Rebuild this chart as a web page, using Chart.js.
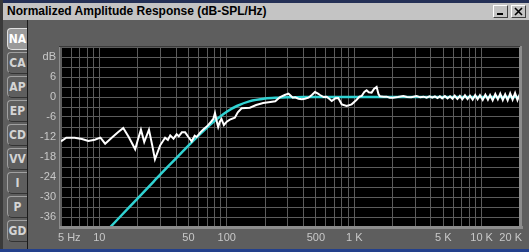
<!DOCTYPE html>
<html>
<head>
<meta charset="utf-8">
<script src="https://cdn.jsdelivr.net/npm/chart.js@4/dist/chart.umd.min.js"></script>
<style>
  html, body { margin: 0; padding: 0; }
  body { width: 529px; height: 252px; overflow: hidden; position: relative; background: #5e5e5e; font-family: "Liberation Sans", Arial, sans-serif; }
  #topline { position: absolute; left: 0; top: 0; width: 529px; height: 3px; background: #243056; }
  #titlebar { position: absolute; left: 3px; top: 3px; width: 526px; height: 17px; background: #c4c4c4; }
  #titlebar span { position: absolute; left: 4px; top: 1px; font: bold 12px "Liberation Sans", Arial, sans-serif; color: #000; line-height: 15px; }
  .wbtn { position: absolute; top: 2px; width: 13px; height: 11px; background: #c4c4c4; border-top: 1px solid #fff; border-left: 1px solid #fff; border-right: 1px solid #404040; border-bottom: 1px solid #404040; }
  .wbtn svg { position: absolute; left: 0; top: 0; }
  #leftedge { position: absolute; left: 0; top: 0; width: 3px; height: 252px; background: #3a3a3a; }
  #tabline { position: absolute; left: 27px; top: 20px; width: 1px; height: 229px; background: #1a1a1a; }
  #bottom { position: absolute; left: 0; top: 249px; width: 529px; height: 3px; background: #23408c; }
  .tab { position: absolute; left: 7px; width: 19px; height: 20px; border-left: 1px solid #a0a0a0; border-top: 1px solid #a0a0a0; border-bottom: 1px solid #333; border-radius: 4px 0 0 5px; font: bold 12px "DejaVu Sans Condensed", "Liberation Sans Narrow", sans-serif; color: #d4d4d4; text-align: center; line-height: 20px; }
  .tab.sel { background: #9a9a9a; color: #fff; border-color: #e0e0e0; }
  #wrap { position: absolute; left: 0; top: 0; width: 529px; height: 252px; }
</style>
</head>
<body>
<div id="topline"></div>
<div id="titlebar"><span>Normalized Amplitude Response (dB-SPL/Hz)</span>
  <div class="wbtn" style="left:490px;"><svg width="13" height="11"><rect x="3" y="7" width="6" height="2" fill="#000"/></svg></div>
  <div class="wbtn" style="left:508px;"><svg width="13" height="11"><path d="M3 2 L10 9 M10 2 L3 9" stroke="#000" stroke-width="1.6"/></svg></div>
</div>
<div id="leftedge"></div>
<div id="tabline"></div>
<div id="bottom"></div>
<div id="tabs"></div>
<div id="wrap"><canvas id="grafico"></canvas></div>
<script>
// side tabs
const tabNames = ["NA", "CA", "AP", "EP", "CD", "VV", "I", "P", "GD"];

// measured response (white)
const freqMeasured = [5, 5.5, 6.4, 7.3, 8.2, 9.2, 10.2, 11.1, 12.5, 14, 15.4, 17, 19.1, 20, 21.2, 22.5, 24.5, 26, 27.3, 30,
  32.8, 34.5, 36, 38.2, 40.4, 42, 44.4, 47.1, 50, 53, 56, 58, 62, 66, 70, 75, 78.4, 80.8, 83, 85.6,
  88, 90.9, 94.9, 100, 105.7, 115.6, 122, 130.7, 151.7, 170, 192.9, 220, 240, 262.5, 285, 305, 330, 344, 365, 388,
  410, 437, 465, 492, 520, 539, 575, 608, 640, 666, 710, 750, 798, 873, 955, 1045, 1100, 1144, 1200, 1251,
  1300, 1369, 1430, 1499, 1550, 1592, 1700, 1795, 1900, 2022, 2200, 2427, 2600, 2800, 3087, 3300, 3500, 3700, 3900, 4100,
  4300, 4500, 4700, 4900, 5150, 5400, 5650, 5900, 6150, 6450, 6750, 7050, 7400, 7750, 8100, 8500, 8900, 9300, 9700, 10200,
  10700, 11200, 11650, 12200, 12800, 13400, 14000, 14650, 15300, 16000, 16750, 17500, 18300, 19100, 20000];
const dbMeasured = [-13.3, -12.2, -12.2, -12.6, -13.2, -12.8, -12.2, -14.0, -12.2, -10.6, -9.3, -12, -15.7, -13, -9.8, -13.5, -9.8, -14.5, -18.7, -14.5,
  -12.2, -12.9, -11.5, -12.5, -11.2, -11.8, -10.6, -10.6, -12.0, -13.3, -11.6, -12.0, -10.6, -9.6, -8.8, -7.5, -6.6, -4.8, -7, -9.0,
  -7.5, -6.6, -8.4, -7.4, -6.8, -6.2, -4.6, -3.4, -3.2, -2.4, -1.8, -1.5, -1.3, 0.0, 0.6, 1.0, -0.2, -0.1, -0.5, -0.7,
  -0.5, -0.2, 0.6, 1.5, 1.0, 0.6, 0.0, 0.1, -0.6, -1.2, -0.4, -0.3, -2.2, -2.7, -2.2, -0.8, 0.1, 0.3, 1.5, 2.0,
  1.4, 1.3, 2.4, 3.0, 0.9, 0.2, 0.1, 0.1, -0.2, -0.2, 0.0, 0.3, 0.0, -0.1, 0.3, -0.1, 0.1, -0.2, 0.2, -0.2,
  0.2, -0.3, 0.2, -0.4, 0.3, -0.4, 0.2, -0.5, 0.4, -0.6, 0.3, -0.7, 0.5, -0.6, 0.4, -0.8, 0.6, -0.7, 0.5, -0.9,
  0.7, -0.8, 0.6, -1.0, 0.9, -0.7, 1.0, -0.9, 0.8, -1.0, 1.1, -0.8, 1.2, -0.9, 1.0];

// target / model response (cyan)
const freqModel = [12, 15, 20, 25, 30, 40, 50, 60, 70, 80, 100, 120, 150, 200, 250, 300, 400, 500, 1000, 20000];
const dbModel = [-39.3, -35.4, -30.4, -26.5, -23.3, -18.4, -14.6, -11.6, -9.2, -7.2, -4.4, -2.7, -1.3, -0.45, -0.2, -0.1, -0.03, 0, 0, 0];

// axis labels
const xLabelFreqs = [5, 10, 50, 100, 500, 1000, 5000, 10000, 20000];
const xLabelText = ["5 Hz", "10", "50", "100", "500", "1 K", "5 K", "10 K", "20 K"];
const yLabelValues = [12, 6, 0, -6, -12, -18, -24, -30, -36];
const yLabelText = ["dB", "6", "0", "-6", "-12", "-18", "-24", "-30", "-36"];

const tabsDiv = document.getElementById("tabs");
tabNames.forEach((t, i) => {
    const d = document.createElement("div");
    d.className = "tab" + (i === 0 ? " sel" : "");
    d.style.top = (28 + i * 24) + "px";
    d.textContent = t;
    tabsDiv.appendChild(d);
});

const textColor = "#c8c8c8";
const gridColor = "#5c5c5c";

// frame + black plot background
const marco = {
    id: "marco",
    beforeDraw(chart) {
        const a = chart.chartArea, c = chart.ctx;
        c.save();
        c.fillStyle = "#000";
        c.fillRect(a.left, a.top, a.right - a.left, a.bottom - a.top);
        c.restore();
    },
    afterDraw(chart) {
        const a = chart.chartArea, c = chart.ctx;
        c.save();
        c.fillStyle = "#8c8c8c";
        c.fillRect(a.left - 2, a.bottom - 1, a.right - a.left + 5, 3);
        c.fillRect(a.right - 1, a.top - 1, 3, a.bottom - a.top + 2);
        c.fillRect(a.left - 2, a.top - 1, 1, a.bottom - a.top + 1);
        c.fillStyle = "#3a3a3a";
        c.fillRect(a.left - 2, a.top - 1, a.right - a.left + 2, 1);
        // x labels, clamped to the plot edges
        const sx = chart.scales.x;
        c.font = "11px 'Liberation Sans', Arial, sans-serif";
        c.fillStyle = textColor;
        c.textBaseline = "middle";
        xLabelFreqs.forEach((f, i) => {
            const px = sx.getPixelForValue(f);
            const w = c.measureText(xLabelText[i]).width;
            let left = px - w / 2;
            if (left < a.left - 3) left = a.left - 3;
            if (left + w > a.right + 2) left = a.right + 2 - w;
            c.fillText(xLabelText[i], left, 238);
        });
        c.restore();
    }
};

const gridFreqs = [];
for (let d = 1; d <= 10000; d *= 10) {
    for (let m = 1; m <= 9; m++) {
        const f = m * d;
        if (f >= 5 && f <= 20000) gridFreqs.push(f);
    }
}
gridFreqs.push(20000);

new Chart(document.getElementById("grafico"), {
    type: "line",
    data: {
        datasets: [
            {
                label: "Medido",
                data: freqMeasured.map((f, i) => ({ x: f, y: dbMeasured[i] })),
                borderColor: "#ffffff",
                borderWidth: 2,
                pointRadius: 0,
                tension: 0
            },
            {
                label: "Modelo",
                data: freqModel.map((f, i) => ({ x: f, y: dbModel[i] })),
                borderColor: "#30d2d2",
                borderWidth: 2.5,
                pointRadius: 0,
                tension: 0.3
            }
        ]
    },
    options: {
        responsive: true,
        maintainAspectRatio: false,
        animation: false,
        layout: { padding: { left: 0, top: 47, right: 9, bottom: 0 } },
        plugins: {
            legend: { display: false },
            tooltip: { enabled: false }
        },
        scales: {
            x: {
                type: "logarithmic",
                min: 5,
                max: 20000,
                afterBuildTicks: s => { s.ticks = gridFreqs.map(v => ({ value: v })); },
                afterFit: s => { s.height = 25; },
                grid: { color: gridColor, drawTicks: false },
                border: { display: false },
                ticks: { display: false }
            },
            y: {
                min: -39,
                max: 15,
                afterFit: s => { s.width = 61; },
                grid: { color: gridColor, drawTicks: false },
                border: { display: false },
                ticks: {
                    stepSize: 3,
                    autoSkip: false,
                    padding: 5,
                    color: textColor,
                    font: { family: "'Liberation Sans', Arial, sans-serif", size: 11 },
                    callback: v => {
                        const k = yLabelValues.indexOf(v);
                        return k >= 0 ? yLabelText[k] : "";
                    }
                }
            }
        }
    },
    plugins: [marco]
});
</script>
</body>
</html>
